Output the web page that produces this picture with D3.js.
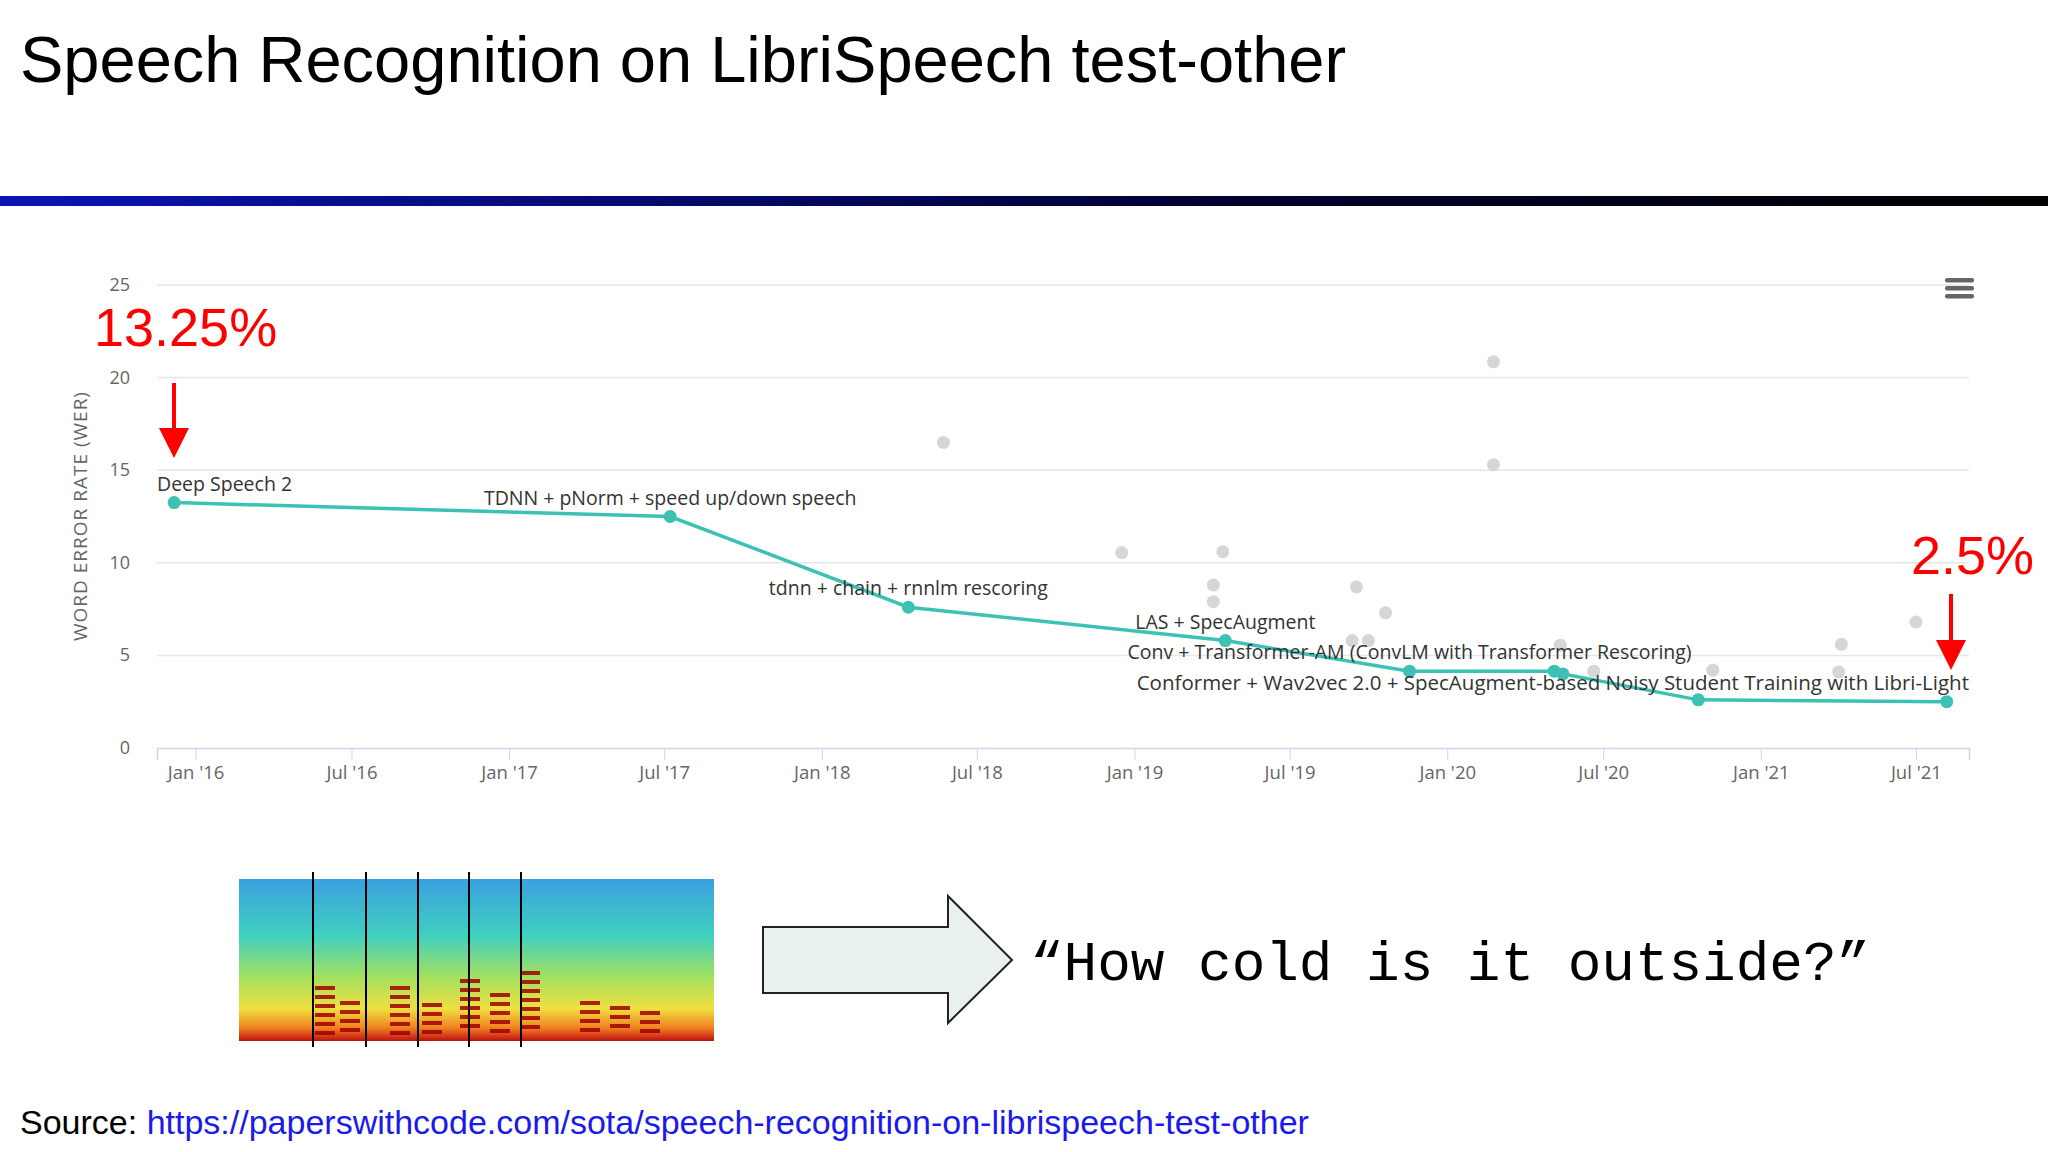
<!DOCTYPE html>
<html><head><meta charset="utf-8">
<script src="https://cdn.jsdelivr.net/npm/d3@7/dist/d3.min.js"></script>
<style>body{margin:0;background:#fff}svg{display:block}</style>
</head><body>
<svg id="c" width="2048" height="1152"></svg>
<script>
const sotaDates = ["2015-12-07","2017-07-08","2018-04-12","2019-04-17","2019-11-18","2020-05-05","2020-05-15","2020-10-20","2021-08-06"];
const sotaValues = [13.25,12.5,7.6,5.8,4.15,4.15,4.0,2.6,2.5];
const sotaLabels = ["Deep Speech 2","TDNN + pNorm + speed up/down speech","tdnn + chain + rnnlm rescoring","LAS + SpecAugment","Conv + Transformer-AM (ConvLM with Transformer Rescoring)","","","","Conformer + Wav2vec 2.0 + SpecAugment-based Noisy Student Training with Libri-Light"];
const otherDates = ["2018-05-23","2018-12-17","2019-04-14","2019-04-03","2019-04-03","2019-09-17","2019-10-21","2019-09-12","2019-10-01","2020-02-24","2020-02-24","2020-05-12","2020-06-20","2020-11-06","2021-04-05","2021-04-02","2021-07-01"];
const otherValues = [16.5,10.55,10.6,8.8,7.9,8.7,7.3,5.8,5.8,20.85,15.3,5.55,4.15,4.2,5.6,4.1,6.8];
const yTicks = [0,5,10,15,20,25];
const xTickDates = ["2016-01-01","2016-07-01","2017-01-01","2017-07-01","2018-01-01","2018-07-01","2019-01-01","2019-07-01","2020-01-01","2020-07-01","2021-01-01","2021-07-01"];

const svg = d3.select("#c");
const P = d3.timeParse("%Y-%m-%d");
const fmt = d3.timeFormat("%b '%y");

svg.append("text").attr("x",20).attr("y",82).attr("font-family","Liberation Sans, Arial").attr("font-size",65).attr("fill","#000").text("Speech Recognition on LibriSpeech test-other");
const g0 = svg.append("defs").append("linearGradient").attr("id","bar");
g0.append("stop").attr("offset","0%").attr("stop-color","#0a14b4");
g0.append("stop").attr("offset","60%").attr("stop-color","#000030");
g0.append("stop").attr("offset","100%").attr("stop-color","#000");
svg.append("rect").attr("x",0).attr("y",196).attr("width",2048).attr("height",10).attr("fill","url(#bar)");

const x = d3.scaleTime().domain([P("2015-11-17"),P("2021-09-01")]).range([157,1969]);
const y = d3.scaleLinear().domain([0,25]).range([748,285]);
const F = "Open Sans, sans-serif";

svg.append("g").selectAll("line").data(yTicks.slice(1)).join("line")
  .attr("x1",157).attr("x2",1969).attr("y1",d=>y(d)).attr("y2",d=>y(d)).attr("stroke","#e6e6e6").attr("stroke-width",1.5);
svg.append("g").selectAll("text").data(yTicks).join("text")
  .attr("x",130).attr("y",d=>y(d)+6).attr("text-anchor","end").attr("font-family",F).attr("font-size",18).attr("fill","#666").text(d=>d);
svg.append("text").attr("transform","translate(87,516) rotate(-90)").attr("text-anchor","middle").attr("font-family",F).attr("font-size",19).attr("fill","#666").attr("letter-spacing",1).text("WORD ERROR RATE (WER)");

const xa = svg.append("g").attr("transform","translate(0,748)")
  .call(d3.axisBottom(x).tickValues(xTickDates.map(P)).tickFormat(fmt).tickSize(12).tickPadding(6));
xa.select(".domain").attr("stroke","#ccd6eb").attr("stroke-width",1.5);
xa.selectAll(".tick line").attr("stroke","#ccd6eb");
xa.selectAll("text").attr("font-family",F).attr("font-size",18.5).attr("fill","#666");

svg.append("g").selectAll("circle").data(otherDates.map((d,i)=>[P(d),otherValues[i]])).join("circle")
  .attr("cx",d=>x(d[0])).attr("cy",d=>y(d[1])).attr("r",6.5).attr("fill","#d6d6d6");

const sota = sotaDates.map((d,i)=>({t:P(d),v:sotaValues[i],l:sotaLabels[i]}));
svg.append("path").datum(sota).attr("fill","none").attr("stroke","#3cc2b4").attr("stroke-width",3.5)
  .attr("d",d3.line().x(d=>x(d.t)).y(d=>y(d.v)));
svg.append("g").selectAll("circle").data(sota).join("circle")
  .attr("cx",d=>x(d.t)).attr("cy",d=>y(d.v)).attr("r",6.5).attr("fill","#3cc2b4");
svg.append("g").selectAll("text").data(sota.filter(d=>d.l)).join("text")
  .attr("x",(d,i,a)=> i===0 ? 157 : (i===a.length-1 ? 1969 : x(d.t)))
  .attr("text-anchor",(d,i,a)=> i===0 ? "start" : (i===a.length-1 ? "end" : "middle"))
  .attr("y",d=>y(d.v)-12).attr("font-family",F).attr("font-size",(d,i,a)=> i===a.length-1 ? 20.5 : 19.5).attr("fill","#333").text(d=>d.l);

[0,8,16].forEach(o=>svg.append("rect").attr("x",1945).attr("y",278+o).attr("width",29).attr("height",4.5).attr("rx",2).attr("fill","#666"));

function arrow(xc,y1,y2){
  svg.append("line").attr("x1",xc).attr("x2",xc).attr("y1",y1).attr("y2",y2-26).attr("stroke","#f00").attr("stroke-width",4);
  svg.append("path").attr("d",`M${xc-15},${y2-30}L${xc+15},${y2-30}L${xc},${y2}Z`).attr("fill","#f00");
}
svg.append("text").attr("x",94).attr("y",346).attr("font-family","Liberation Sans Narrow, Liberation Sans").attr("font-size",54).attr("fill","#f00").text("13.25%");
arrow(174,383,458);
svg.append("text").attr("x",1911).attr("y",574).attr("font-family","Liberation Sans Narrow, Liberation Sans").attr("font-size",54).attr("fill","#f00").text("2.5%");
arrow(1951,594,670);

const sg = svg.append("defs").append("linearGradient").attr("id","spec").attr("x1",0).attr("x2",0).attr("y1",0).attr("y2",1);
[["0%","#3aa0e0"],["35%","#40d0c0"],["60%","#a0e060"],["80%","#f0e040"],["92%","#f08020"],["100%","#c01010"]].forEach(s=>sg.append("stop").attr("offset",s[0]).attr("stop-color",s[1]));
svg.append("rect").attr("x",239).attr("y",879).attr("width",475).attr("height",162).attr("fill","url(#spec)");
const bursts = [[325,55],[350,40],[400,55],[432,38],[470,62],[500,48],[530,70],[590,40],[620,35],[650,30]];
bursts.forEach(b=>{
  const n = Math.floor(b[1]/9);
  for(let k=0;k<n;k++) svg.append("rect").attr("x",b[0]-10).attr("y",1041-b[1]+k*9).attr("width",20).attr("height",4).attr("fill","#a00000").attr("opacity",0.85);
});
[313,366,418,469,521].forEach(v=>svg.append("line").attr("x1",v).attr("x2",v).attr("y1",872).attr("y2",1047).attr("stroke","#000").attr("stroke-width",2));

svg.append("path").attr("d","M763,927L948,927L948,896L1012,960L948,1023L948,993L763,993Z").attr("fill","#e8f1ec").attr("stroke","#222").attr("stroke-width",2);
svg.append("text").attr("x",1030).attr("y",980).attr("font-family","Liberation Mono, Courier New, monospace").attr("font-size",56).attr("fill","#000").text("“How cold is it outside?”");

const st = svg.append("text").attr("x",20).attr("y",1134).attr("font-family","Liberation Sans, Arial").attr("font-size",34);
st.append("tspan").attr("fill","#000").text("Source: ");
st.append("tspan").attr("fill","#1a1aee").text("https://paperswithcode.com/sota/speech-recognition-on-librispeech-test-other");
</script>
</body></html>
